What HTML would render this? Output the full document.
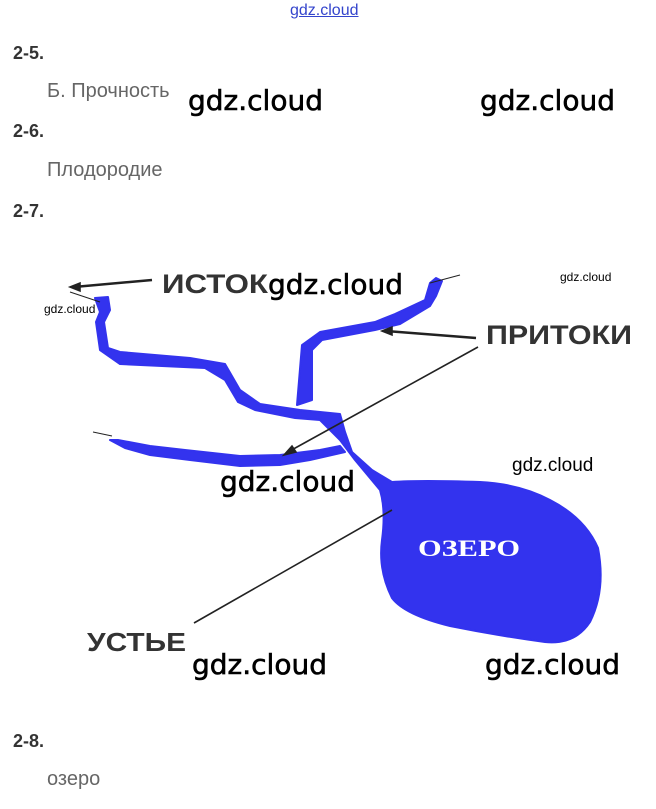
<!DOCTYPE html>
<html><head><meta charset="utf-8"><style>
body{margin:0;width:656px;height:809px;background:#fff;position:relative;overflow:hidden;font-family:"Liberation Sans",sans-serif}
.a{position:absolute;white-space:nowrap}
.h{font-weight:bold;font-size:18px;color:#333;left:13px}
.t{font-size:20px;color:#666;left:47px}
.w{font-family:"DejaVu Sans","Liberation Sans",sans-serif;color:#000;font-size:28px;font-weight:500;-webkit-text-stroke:0.6px #000}
</style></head><body>
<div class="a" style="left:290px;top:2px;font-size:16px;color:#3344cc;text-decoration:underline">gdz.cloud</div>
<div class="a h" style="top:43px">2-5.</div>
<div class="a t" style="top:80px">Б. Прочность</div>
<div class="a h" style="top:121px">2-6.</div>
<div class="a t" style="top:159px">Плодородие</div>
<div class="a h" style="top:201px">2-7.</div>
<svg class="a" style="left:0;top:0" width="656" height="809">
<g fill="#3333ee" stroke="#3333ee" stroke-linejoin="round" stroke-linecap="round">
<path d="M95,298 L108,297 L110,310 L104,322 L108,348 L120,352 L190,358 L225,364 L240,390 L260,404 L300,410 L340,414 L345,432 L352,452 L372,470 L392,482 Q420,480 480,482 Q520,484 550,500 Q585,518 598,548 Q606,590 590,622 Q575,645 545,642 Q500,636 450,626 Q405,615 392,598 Q378,570 382,540 Q386,510 380,490 L355,460 L340,440 L320,420 L295,418 L255,410 L238,402 L225,380 L205,368 L120,364 L100,350 L96,322 L100,312 Z" stroke-width="2"/>
<path d="M297,405 L302,345 L320,332 L375,322 L395,314 L425,300 L430,283 L436,278 L442,281 L436,296 L430,306 L400,324 L375,330 L322,340 L312,350 L312,400 Z" stroke-width="2"/>
<path d="M345,452 L310,460 L280,465 L240,466 L190,460 L150,455 L125,448 L110,440 L118,440 L150,446 L185,450 L240,456 L280,455 L320,450 L340,446 Z" stroke-width="2"/>
</g>
<g stroke="#222" fill="none" stroke-width="1.6">
<line x1="70" y1="292" x2="100" y2="302" stroke-width="1"/>
<line x1="430" y1="283" x2="460" y2="275" stroke-width="1"/>
<line x1="93" y1="432" x2="112" y2="436" stroke-width="1"/>
<line x1="152" y1="280" x2="74" y2="287" stroke-width="2.5"/>
<polygon points="70,287 80,283 80,291" fill="#222"/>
<line x1="476" y1="338" x2="386" y2="331" stroke-width="2.5"/>
<polygon points="382,331 392,327 392,335" fill="#222"/>
<line x1="478" y1="347" x2="288" y2="452"/>
<polygon points="284,455 292,446 296,452" fill="#222"/>
<line x1="194" y1="623" x2="392" y2="510"/>
</g>
<text x="162" y="293" font-family="Liberation Sans" font-weight="bold" font-size="27" fill="#333" textLength="106" lengthAdjust="spacingAndGlyphs">ИСТОК</text>
<text x="486" y="344" font-family="Liberation Sans" font-weight="bold" font-size="27" fill="#333" textLength="146" lengthAdjust="spacingAndGlyphs">ПРИТОКИ</text>
<text x="87" y="651" font-family="Liberation Sans" font-weight="bold" font-size="26" fill="#333" textLength="99" lengthAdjust="spacingAndGlyphs">УСТЬЕ</text>
<text x="418" y="556" font-family="Liberation Serif" font-weight="bold" font-size="23" fill="#fff" textLength="102" lengthAdjust="spacingAndGlyphs">ОЗЕРО</text>
</svg>
<div class="a w" style="left:188px;top:84px">gdz.cloud</div>
<div class="a w" style="left:480px;top:84px">gdz.cloud</div>
<div class="a w" style="left:268px;top:268px">gdz.cloud</div>
<div class="a" style="left:560px;top:270px;font-size:12px">gdz.cloud</div>
<div class="a" style="left:44px;top:302px;font-size:12px">gdz.cloud</div>
<div class="a w" style="left:220px;top:465px">gdz.cloud</div>
<div class="a" style="left:512px;top:455px;font-size:19px">gdz.cloud</div>
<div class="a w" style="left:192px;top:648px">gdz.cloud</div>
<div class="a w" style="left:485px;top:648px">gdz.cloud</div>
<div class="a h" style="top:731px">2-8.</div>
<div class="a t" style="top:768px">озеро</div>
</body></html>
